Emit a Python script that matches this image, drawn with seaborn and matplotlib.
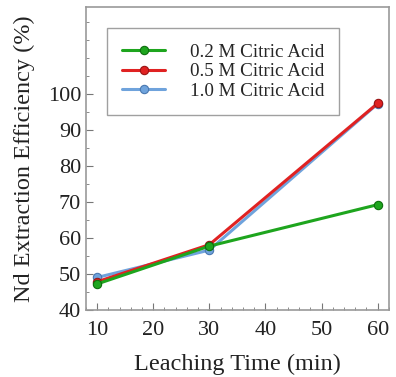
import numpy as np
import pandas as pd
import seaborn as sns
import matplotlib.pyplot as plt
from matplotlib.ticker import MultipleLocator

# data
times = [10, 30, 60]
conc_02 = [47.2, 57.7, 69.2]
conc_05 = [47.8, 58.1, 97.3]
conc_10 = [49.0, 56.6, 97.2]
labels = ["0.2 M Citric Acid", "0.5 M Citric Acid", "1.0 M Citric Acid"]
colors = ["#1ea51e", "#e02222", "#6fa3dc"]
edges = ["#0e6e0e", "#9a1414", "#4a78b0"]

df = pd.DataFrame({
    "time": times * 3,
    "eff": conc_02 + conc_05 + conc_10,
    "series": [labels[0]] * 3 + [labels[1]] * 3 + [labels[2]] * 3,
})

sns.set_style("ticks")
plt.rcParams["font.family"] = ["Liberation Serif", "DejaVu Serif"]

fig, ax = plt.subplots(figsize=(3.96, 3.77), dpi=100)
fig.subplots_adjust(left=0.217, right=0.982, top=0.981, bottom=0.178)

# draw in reverse so green ends up on top
for lab, c, ec in list(zip(labels, colors, edges))[::-1]:
    sub = df[df["series"] == lab]
    sns.lineplot(data=sub, x="time", y="eff", ax=ax, color=c, lw=2.2,
                 marker="o", markersize=6, markeredgecolor=ec,
                 markeredgewidth=0.8, label=lab)

ax.set_xlim(8, 62)
ax.set_ylim(40, 124)
ax.set_xticks([10, 20, 30, 40, 50, 60])
ax.set_yticks([40, 50, 60, 70, 80, 90, 100])
ax.xaxis.set_minor_locator(MultipleLocator(2))
ax.yaxis.set_minor_locator(MultipleLocator(5))
ax.tick_params(which="both", direction="in", colors="#777777", labelcolor="#222222")
ax.tick_params(which="major", length=5, labelsize=16)
ax.tick_params(axis="x", which="major", pad=8)
ax.tick_params(which="minor", length=2.5)
for s in ax.spines.values():
    s.set_color("#999999")
    s.set_linewidth(1.2)

ax.set_xlabel("Leaching Time (min)", fontsize=17.5, color="#222222", labelpad=10)
ax.set_ylabel("Nd Extraction Efficiency (%)", fontsize=17.5, color="#222222", labelpad=9)

h, l = ax.get_legend_handles_labels()
leg = ax.legend(h[::-1], l[::-1], loc="upper left", bbox_to_anchor=(0.07, 0.93),
                fontsize=13.8, frameon=True, fancybox=False, edgecolor="#888888",
                borderpad=0.8, handlelength=2.2, handletextpad=1.3,
                labelspacing=0.1, borderaxespad=0)
leg.get_frame().set_linewidth(1.0)

fig.savefig("out.png", dpi=100)
